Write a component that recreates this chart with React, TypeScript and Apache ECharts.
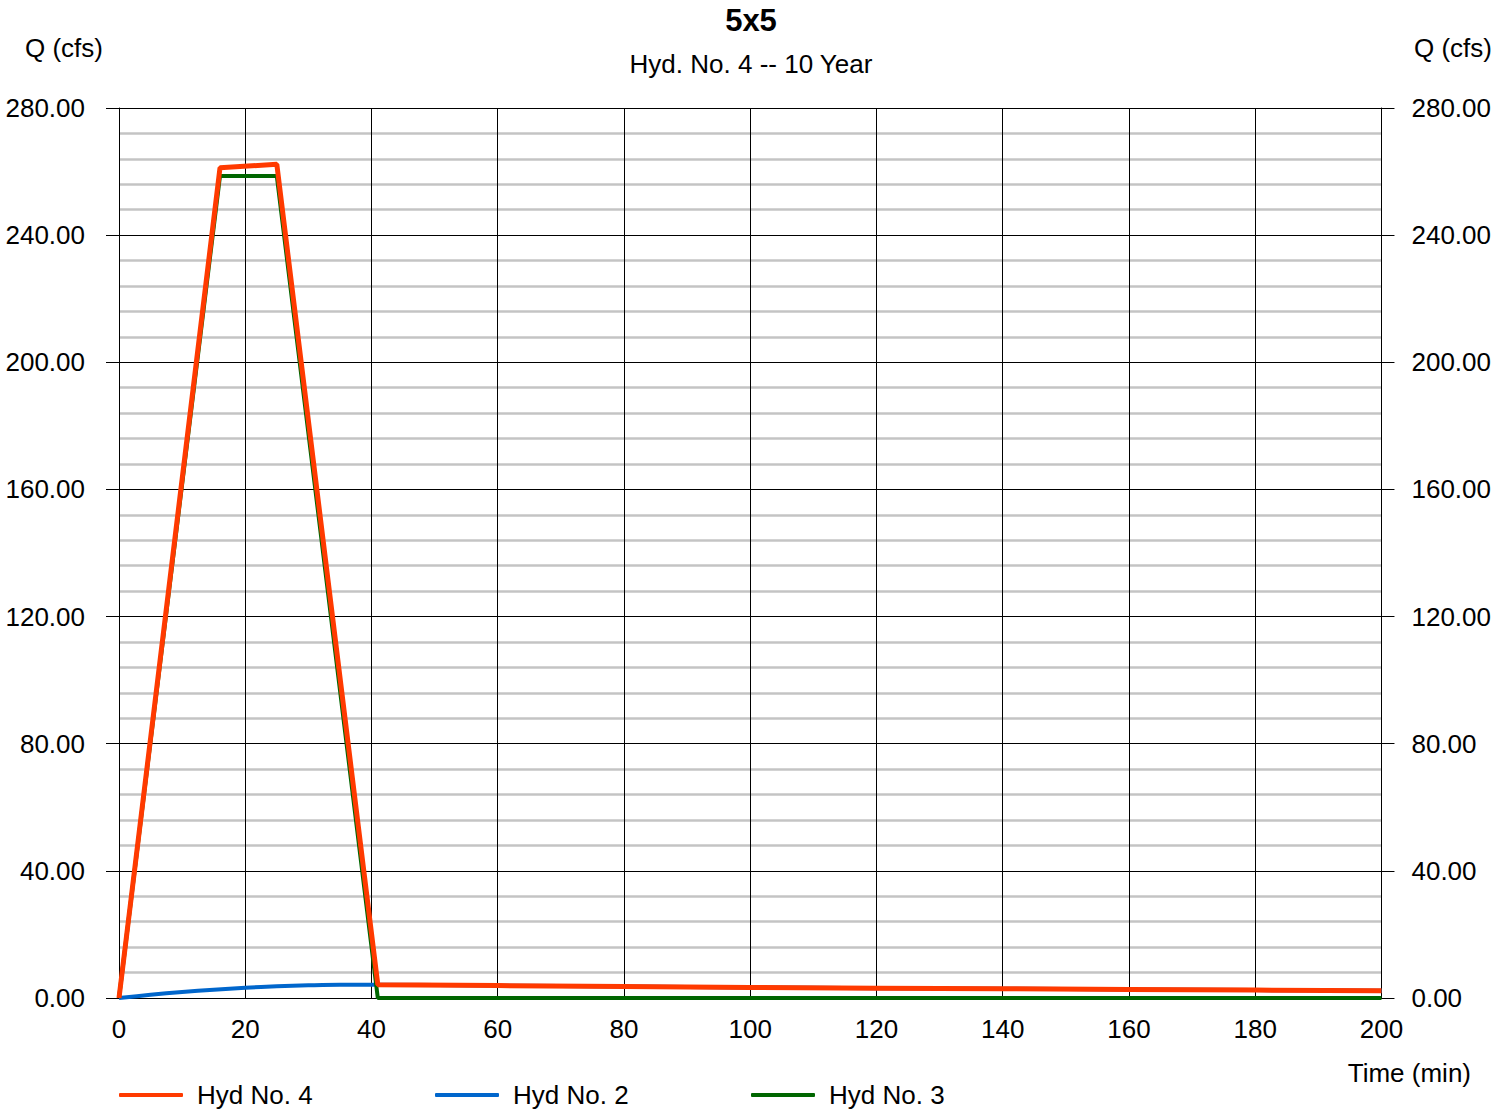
import React, { useEffect, useRef } from "react";
import * as echarts from "echarts";

const titleText = "5x5";
const subtitleText = "Hyd. No. 4 -- 10 Year";
const yAxisName = "Q (cfs)";
const xAxisName = "Time (min)";
const seriesNames = ["Hyd No. 4", "Hyd No. 2", "Hyd No. 3"];
const seriesColors = ["#ff3a00", "#0066cc", "#006600"];

// [time (min), Q (cfs)]
const hyd4: [number, number][] = [
  [0, 0], [16, 261.2], [25, 262.3], [41, 4.2], [60, 3.9], [80, 3.6], [100, 3.3],
  [120, 3.1], [140, 2.9], [160, 2.7], [180, 2.5], [200, 2.3],
];
const hyd2: [number, number][] = [
  [0, 0], [5, 1.0], [10, 1.9], [15, 2.6], [20, 3.2], [25, 3.7], [30, 4.0], [35, 4.2],
  [41, 4.2], [60, 3.9], [80, 3.6], [100, 3.3], [120, 3.1], [140, 2.9], [160, 2.7],
  [180, 2.5], [200, 2.3],
];
const hyd3: [number, number][] = [
  [0, 0], [16, 258.6], [25, 258.6], [41, 0], [200, 0],
];

const FONT = "'Liberation Sans', Arial, sans-serif";
const FS = 26;

export default function App() {
  const ref = useRef<HTMLDivElement>(null);
  useEffect(() => {
    if (!ref.current) return;
    const chart = echarts.init(ref.current, null, { renderer: "svg" });
    const yCommon = {
      type: "value" as const,
      min: 0,
      max: 280,
      interval: 40,
      axisLine: { show: true, lineStyle: { color: "#000", width: 1 } },
      axisTick: { show: true, length: 13, inside: false, lineStyle: { color: "#000", width: 1 } },
      axisLabel: {
        fontFamily: FONT,
        fontSize: FS,
        color: "#000",
        formatter: (v: number) => v.toFixed(2),
      },
    };
    chart.setOption({
      animation: false,
      backgroundColor: "#fff",
      textStyle: { fontFamily: FONT },
      grid: { left: 119, right: 110, top: 108, bottom: 112, containLabel: false },
      xAxis: {
        type: "value",
        min: 0,
        max: 200,
        interval: 20,
        axisLine: { show: true, lineStyle: { color: "#000", width: 1 } },
        axisTick: { show: false },
        axisLabel: { fontFamily: FONT, fontSize: FS, color: "#000", margin: 18 },
        splitLine: { show: true, lineStyle: { color: "#000", width: 1 } },
      },
      yAxis: [
        {
          ...yCommon,
          position: "left",
          axisLabel: { ...yCommon.axisLabel, margin: 34 },
          splitLine: { show: true, lineStyle: { color: "#000", width: 1 } },
          minorTick: { show: false, splitNumber: 5 },
          minorSplitLine: { show: true, lineStyle: { color: "#c4c4c4", width: 2.5 } },
        },
        {
          ...yCommon,
          position: "right",
          axisLabel: { ...yCommon.axisLabel, margin: 30 },
          splitLine: { show: false },
        },
      ],
      legend: seriesNames.map((n, i) => ({
        data: [n],
        left: 119 + i * 316,
        top: 1082,
        padding: 0,
        itemWidth: 64,
        itemHeight: 4,
        itemGap: 0,
        icon: "roundRect",
        textStyle: { fontFamily: FONT, fontSize: FS, color: "#000", padding: [0, 0, 0, 9] },
      })),
      graphic: [
        { type: "text", x: 751, y: 20, style: { text: titleText, fontFamily: FONT, fontSize: 31, fontWeight: "bold", fill: "#000", align: "center", verticalAlign: "middle" } },
        { type: "text", x: 751, y: 64, style: { text: subtitleText, fontFamily: FONT, fontSize: FS, fill: "#000", align: "center", verticalAlign: "middle" } },
        { type: "text", x: 25, y: 48, style: { text: yAxisName, fontFamily: FONT, fontSize: FS, fill: "#000", align: "left", verticalAlign: "middle" } },
        { type: "text", x: 1492, y: 48, style: { text: yAxisName, fontFamily: FONT, fontSize: FS, fill: "#000", align: "right", verticalAlign: "middle" } },
        { type: "text", x: 1471, y: 1073, style: { text: xAxisName, fontFamily: FONT, fontSize: FS, fill: "#000", align: "right", verticalAlign: "middle" } },
      ],
      series: [
        {
          name: seriesNames[0], type: "line", data: hyd4, showSymbol: false, z: 5,
          lineStyle: { color: seriesColors[0], width: 5 }, itemStyle: { color: seriesColors[0] },
        },
        {
          name: seriesNames[1], type: "line", data: hyd2, showSymbol: false, smooth: 0.3, z: 3,
          lineStyle: { color: seriesColors[1], width: 4 }, itemStyle: { color: seriesColors[1] },
        },
        {
          name: seriesNames[2], type: "line", data: hyd3, showSymbol: false, z: 4,
          lineStyle: { color: seriesColors[2], width: 4 }, itemStyle: { color: seriesColors[2] },
        },
      ],
    });
    return () => chart.dispose();
  }, []);
  return <div ref={ref} style={{ width: 1494, height: 1110, position: "absolute", left: 0, top: 0 }} />;
}
